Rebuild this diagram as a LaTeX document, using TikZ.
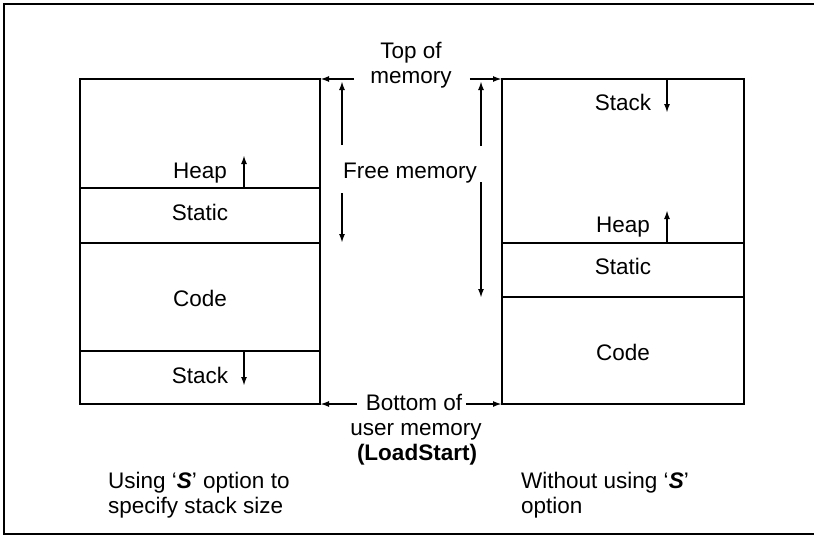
\documentclass[tikz,border=0pt]{standalone}
\usepackage{fontspec}
\setmainfont{Liberation Sans}
\usetikzlibrary{arrows.meta}

\tikzset{
  lbl/.style={inner sep=0pt, text height=16pt, text depth=5pt},
  tip/.style={-{Latex[length=9pt,width=6pt]}, line width=1.8pt},
  wall/.style={line width=2.6pt},
  split/.style={line width=2pt}
}

\begin{document}
\begin{tikzpicture}[x=1pt, y=-1pt, font=\fontsize{22.5}{25}\selectfont]
\useasboundingbox (0,0) rectangle (814,536);

% frame
\draw[wall] (814,4) -- (4,4) -- (4,534) -- (814,534);

% memory blocks
\draw[wall] (80,79) rectangle (320,404);
\draw[split] (80,188) -- (320,188) (80,243) -- (320,243) (80,351) -- (320,351);
\draw[wall] (502,79) rectangle (744,404);
\draw[split] (502,243) -- (744,243) (502,297) -- (744,297);

\coordinate (ltop) at (320,79);
\coordinate (lbot) at (320,404);
\coordinate (rtop) at (502,79);
\coordinate (rbot) at (502,404);

\draw
(200,173) node[lbl](lheap){Heap}
(200,215) node[lbl](lstatic){Static}
(200,301) node[lbl](lcode){Code}
(200,378) node[lbl](lstack){Stack}
(623,105) node[lbl](rstack){Stack}
(623,227) node[lbl](rheap){Heap}
(623,269) node[lbl](rstatic){Static}
(623,355) node[lbl](rcode){Code};

\draw
(411,53) node[lbl](topof){Top of}
(411,78) node[lbl](topmem){memory}
(410,173) node[lbl](freemem){Free memory}
(414,405) node[lbl](botof){Bottom of}
(416,430) node[lbl](usermem){user memory}
(417,455) node[lbl](loadst){\textbf{(LoadStart)}};

% captions
\node[anchor=north west, inner sep=0pt, align=left] (lcap) at (108,472)
  {Using `\textbf{\textit{S}}' option to\\specify stack size};
\node[anchor=north west, inner sep=0pt, align=left] (rcap) at (521,472)
  {Without using `\textbf{\textit{S}}'\\option};

% growth arrows
\coordinate (lheapa) at (244,188);
\coordinate (lheapb) at (244,155);
\coordinate (lstacka) at (244,351);
\coordinate (lstackb) at (244,386);
\coordinate (rstacka) at (667,79);
\coordinate (rstackb) at (667,113);
\coordinate (rheapa) at (667,243);
\coordinate (rheapb) at (667,210);
\draw[tip] (lheapa) -- (lheapb);
\draw[tip] (lstacka) -- (lstackb);
\draw[tip] (rstacka) -- (rstackb);
\draw[tip] (rheapa) -- (rheapb);

% free memory arrows
\coordinate (lfreea) at (342,145);
\coordinate (lfreeb) at (342,81);
\coordinate (lfreec) at (342,193);
\coordinate (lfreed) at (342,243);
\coordinate (rfreea) at (481,146);
\coordinate (rfreeb) at (481,81);
\coordinate (rfreec) at (481,182);
\coordinate (rfreed) at (481,298);
\draw[tip] (lfreea) -- (lfreeb);
\draw[tip] (lfreec) -- (lfreed);
\draw[tip] (rfreea) -- (rfreeb);
\draw[tip] (rfreec) -- (rfreed);

% top and bottom pointers
\draw[tip] ([xshift=-16pt]topmem.west |- ltop) -- (ltop);
\draw[tip] ([xshift=18pt]topmem.east |- rtop) -- (rtop);
\draw[tip] ([xshift=-9pt]botof.west |- lbot) -- (lbot);
\draw[tip] ([xshift=4pt]botof.east |- rbot) -- (rbot);

\end{tikzpicture}
\end{document}
